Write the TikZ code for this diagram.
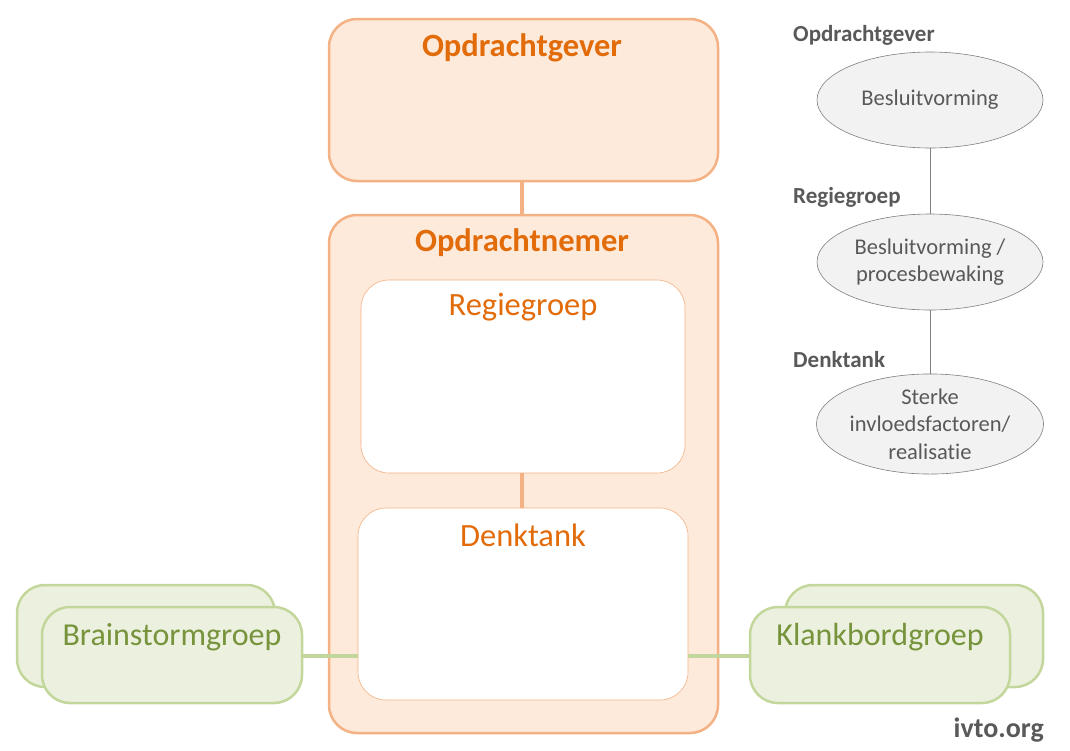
\documentclass[tikz,border=0pt]{standalone}
\usepackage{fontspec}
\setmainfont{Carlito}[Ligatures={NoCommon}]
\usetikzlibrary{shapes.geometric}
\definecolor{peachfill}{HTML}{FDEADA}
\definecolor{peachline}{HTML}{F4B183}
\definecolor{orangetxt}{HTML}{E26B0A}
\definecolor{greenfill}{HTML}{EBF1DE}
\definecolor{greenline}{HTML}{C3D69B}
\definecolor{greentxt}{HTML}{77933C}
\definecolor{greytxt}{HTML}{595959}
\definecolor{ellfill}{HTML}{F2F2F2}
\definecolor{ellline}{HTML}{7F7F7F}
\tikzset{
  outerbox/.style={draw=peachline, fill=peachfill, line width=2.5pt, rounded corners=28pt},
  innerbox/.style={draw=peachline, fill=white, line width=0.6pt, rounded corners=28pt},
  groupbox/.style={draw=greenline, fill=greenfill, line width=2.5pt, rounded corners=28pt},
  peachconn/.style={draw=peachline, line width=4.5pt},
  greenconn/.style={draw=greenline, line width=4.5pt},
  ell/.style={ellipse, draw=ellline, fill=ellfill, line width=0.6pt, minimum width=226pt, minimum height=96pt, inner sep=0pt, align=center, font=\fontsize{22.5}{27}\selectfont, text=greytxt},
  bigtitle/.style={font=\fontsize{32.5}{36}\selectfont\bfseries, text=orangetxt},
  subtitle/.style={font=\fontsize{32.5}{36}\selectfont, text=orangetxt},
  grouptxt/.style={font=\fontsize{32}{36}\selectfont, text=greentxt},
  sidelabel/.style={font=\fontsize{23}{26}\selectfont\bfseries, text=greytxt, anchor=west, inner sep=0pt},
  x=1pt, y=-1pt
}
\begin{document}
\begin{tikzpicture}
\useasboundingbox (0,0) rectangle (1070,750);
% main boxes
\draw[outerbox] (329,19) rectangle (718,181);
\coordinate (gevB) at (522,181);
\node[bigtitle] (gevT) at (522,48) {Opdrachtgever};
\draw[outerbox] (329,215) rectangle (718,733);
\coordinate (nemT) at (522,215);
\node[bigtitle] (nemTitle) at (522,243) {Opdrachtnemer};
\draw[peachconn] (gevB) -- (nemT);
% inner boxes
\draw[innerbox] (361,280) rectangle (685,473);
\node[subtitle] (regT) at (523,307) {Regiegroep};
\draw[innerbox] (358,508) rectangle (688,700);
\node[subtitle] (denT) at (523,535) {Denktank};
\coordinate (regB) at (522,473);
\coordinate (denTop) at (522,508);
\draw[peachconn] (regB) -- (denTop);
% brainstorm
\draw[groupbox] (17,585) rectangle (275,687);
\draw[groupbox] (42,607) rectangle (302,703);
\node[grouptxt] (bs) at (172,637) {Brainstormgroep};
\coordinate (bsR) at (302,656);
\coordinate (denL) at (358,656);
\draw[greenconn] (bsR) -- (denL);
% klankbord
\draw[groupbox] (785,585) rectangle (1043,687);
\draw[groupbox] (750,607) rectangle (1010,703);
\node[grouptxt] (kb) at (880,637) {Klankbordgroep};
\coordinate (kbL) at (750,656);
\coordinate (denR) at (688,656);
\draw[greenconn] (denR) -- (kbL);
% right column
\node[sidelabel] (l1) at (793,35) {Opdrachtgever};
\node[ell] (e1) at (930,100) {Besluitvorming};
\node[sidelabel] (l2) at (793,197) {Regiegroep};
\node[ell] (e2) at (930,262) {Besluitvorming /\\procesbewaking};
\node[sidelabel] (l3) at (793,360) {Denktank};
\node[ell, font=\fontsize{22.5}{27.5}\selectfont] (e3) at (930,424) {Sterke\\invloedsfactoren/\\realisatie};
\draw[ellline, line width=0.8pt] (e1.south) -- (e2.north);
\draw[ellline, line width=0.8pt] (e2.south) -- (e3.north);
\node[font=\fontsize{28}{32}\selectfont\bfseries, text=greytxt, anchor=east, inner sep=0pt] (ivto) at (1044,730) {ivto.org};
\end{tikzpicture}
\end{document}
